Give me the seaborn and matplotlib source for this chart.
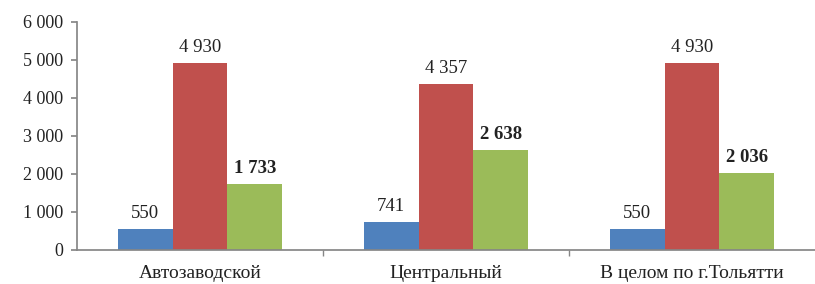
import matplotlib
matplotlib.use("Agg")
import matplotlib.pyplot as plt
import matplotlib.ticker as mticker
import pandas as pd
import seaborn as sns

sns.set_theme(style="white")
plt.rcParams['font.family'] = ['Liberation Serif', 'DejaVu Serif']

# Данные
districts = ['Автозаводской', 'Центральный', 'В целом по г.Тольятти']
series_names = ['Ряд 1', 'Ряд 2', 'Ряд 3']
vals_blue = [550, 741, 550]
vals_red = [4930, 4357, 4930]
vals_green = [1733, 2638, 2036]
colors = ['#4F81BD', '#C0504D', '#9BBB59']

df = pd.DataFrame({
    'district': districts * 3,
    'series': [series_names[0]] * 3 + [series_names[1]] * 3 + [series_names[2]] * 3,
    'value': vals_blue + vals_red + vals_green,
})

fig = plt.figure(figsize=(8.15, 2.84), dpi=100)
ax = fig.add_axes([77 / 815, 1 - 250 / 284, 1 - 77 / 815, (250 - 22) / 284])

sns.barplot(data=df, x='district', y='value', hue='series', order=districts,
            hue_order=series_names, palette=colors, width=0.67, gap=0,
            saturation=1, legend=False, linewidth=0, ax=ax)

def fmt(v):
    return f"{int(round(v)):,}".replace(',', ' ')

for i, cont in enumerate(ax.containers):
    txt = ax.bar_label(cont, labels=[fmt(b.get_height()) for b in cont],
                       padding=5, fontsize=13.5, color='#222222')
    if i == 2:
        for t in txt:
            t.set_fontweight('bold')

ax.set_ylim(0, 6000)
ax.set_xlim(-0.5, 2.5)
ax.yaxis.set_major_locator(mticker.MultipleLocator(1000))
ax.yaxis.set_major_formatter(mticker.FuncFormatter(lambda v, p: fmt(v)))
ax.set_xlabel('')
ax.set_ylabel('')

ax.spines['top'].set_visible(False)
ax.spines['right'].set_visible(False)
ax.spines['left'].set_color('#868686')
ax.spines['bottom'].set_color('#868686')

ax.tick_params(axis='y', left=True, length=4, color='#868686', labelsize=13, pad=6, labelcolor='#222222')
ax.tick_params(axis='x', bottom=False, labelsize=14, pad=5, labelcolor='#222222')
# деления между категориями
ax.set_xticks([0.5, 1.5], minor=True)
ax.tick_params(axis='x', which='minor', bottom=True, length=4, color='#868686')

fig.savefig('out.png', dpi=100)
